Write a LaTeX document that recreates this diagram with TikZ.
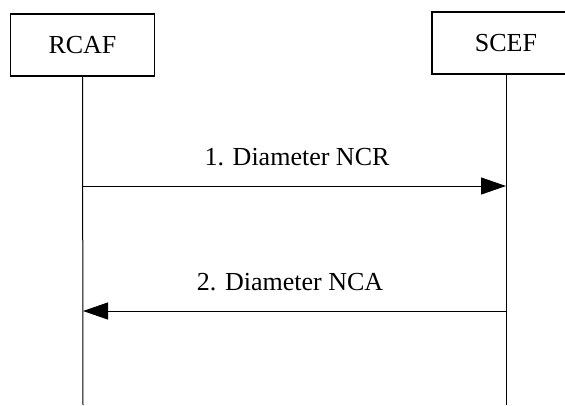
\documentclass[tikz,border=0pt]{standalone}
\usepackage{fontspec}
\setmainfont{Liberation Serif}
\usetikzlibrary{positioning,arrows.meta}

\begin{document}
\begin{tikzpicture}[x=1pt, y=-1pt, font=\fontsize{26}{30}\selectfont,
    entidad/.style={draw, line width=1.3pt, minimum width=144pt, minimum height=62pt, inner sep=0pt},
    vida/.style={line width=1pt},
    mensaje/.style={line width=1pt, -{Triangle[length=25pt, width=17pt]}}]
    \useasboundingbox (0,0) rectangle (565,405);
    \clip (0,0) rectangle (565,405);
    \node[entidad] (rcaf) at (82.5,45) {RCAF};
    \node[entidad, minimum width=148pt] (scef) at (506,43) {SCEF};
    \coordinate (rcaf fin) at (83,405);
    \coordinate (scef fin) at (506,405);
    \draw[vida] (rcaf.south) -- (rcaf fin);
    \draw[vida] (scef.south) -- (scef fin);
    % mensajes
    \coordinate (ncr a) at (83,186);
    \coordinate (ncr b) at (506,186);
    \coordinate (nca a) at (506,311);
    \coordinate (nca b) at (83,311);
    \draw[mensaje] (ncr a) -- (ncr b);
    \draw[mensaje] (nca a) -- (nca b);
    \node (ncr) at (297,157) {1. Diameter NCR};
    \node (nca) at (290,282) {2. Diameter NCA};
\end{tikzpicture}
\end{document}
